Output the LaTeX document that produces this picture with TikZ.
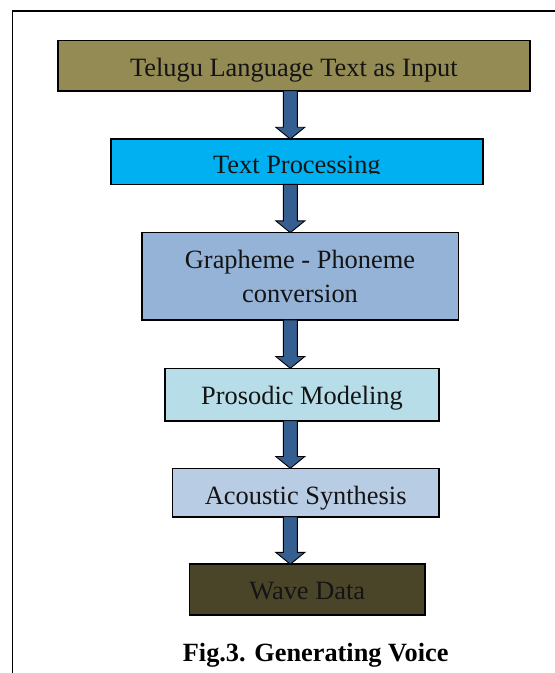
\documentclass[tikz,border=0pt]{standalone}
\usepackage{fontspec}
\setmainfont{Liberation Serif}
\usetikzlibrary{calc}

\definecolor{tanbox}{HTML}{948A54}
\definecolor{cyanbox}{HTML}{00B0F0}
\definecolor{steelbox}{HTML}{95B3D7}
\definecolor{aquabox}{HTML}{B7DEE8}
\definecolor{paleblue}{HTML}{B8CCE4}
\definecolor{darkolive}{HTML}{4A4529}
\definecolor{arrowblue}{HTML}{365F91}

\tikzset{
  stage/.style={rectangle, draw=black, line width=1.6pt, inner sep=0pt, outer sep=0pt,
    align=center, text=black!92, text depth=0pt,
    font=\fontsize{26.4pt}{34.4pt}\selectfont},
  flow/.style={draw=black, line width=0.9pt, fill=arrowblue, line join=miter},
  frameline/.style={draw=black, line width=1.6pt},
  caption/.style={anchor=base, text=black, font=\fontsize{26.3pt}{30pt}\selectfont\bfseries},
}

% block arrow from the bottom of one stage to the top of the next
\newcommand\flowarrow[2]{%
  \path (#1.south -| ax) coordinate (s) (#2.north -| ax) coordinate (t);
  \draw[flow] ($(s)+(-7,0)$) -- ($(s)+(7,0)$) -- ($(t)+(7,-11.8)$)
    -- ($(t)+(14.5,-11.8)$) -- (t) -- ($(t)+(-14.5,-11.8)$)
    -- ($(t)+(-7,-11.8)$) -- cycle;}

\begin{document}
\begin{tikzpicture}[x=1pt, y=-1pt]
  \useasboundingbox (0,0) rectangle (555,673);

  % open frame: left side and top only
  \coordinate (frameBL) at (12.3,673);
  \coordinate (frameTR) at (556,11);
  \draw[frameline] (frameBL) |- (frameTR);

  % column of the connecting arrows
  \coordinate (ax) at (290.3,0);

  \node[stage, fill=tanbox, minimum width=472.3pt, minimum height=50.2pt, text height=20.8pt]
    (input) at (293.9,65.6) {Telugu Language Text as Input};
  \node[stage, fill=cyanbox, minimum width=372.3pt, minimum height=45.3pt, text height=23.2pt]
    (proc) at (296.9,161.7) {Text Processing};
  % the descenders of this label are cut off at the lower edge of its text line
  \fill[cyanbox] ([xshift=1pt,yshift=0.85pt]proc.south west)
    rectangle ([xshift=-1pt,yshift=9.9pt]proc.south east);
  \node[stage, fill=steelbox, minimum width=316.6pt, minimum height=87.3pt,
    text height=52.8pt, text depth=0pt]
    (g2p) at (300,276.3) {Grapheme - Phoneme\\conversion};
  \node[stage, fill=aquabox, minimum width=274pt, minimum height=52.4pt, text height=19pt]
    (pros) at (302,394.5) {Prosodic Modeling};
  \node[stage, fill=paleblue, minimum width=266.7pt, minimum height=48.4pt, text height=23pt]
    (acou) at (305.7,492.5) {Acoustic Synthesis};
  \node[stage, fill=darkolive, minimum width=235.7pt, minimum height=51pt, text height=19.6pt]
    (wave) at (307.2,589.7) {Wave Data};

  \flowarrow{input}{proc}
  \flowarrow{proc}{g2p}
  \flowarrow{g2p}{pros}
  \flowarrow{pros}{acou}
  \flowarrow{acou}{wave}

  \node[caption] (cap) at (315.7,661.7) {Fig.3. Generating Voice};
\end{tikzpicture}
\end{document}
